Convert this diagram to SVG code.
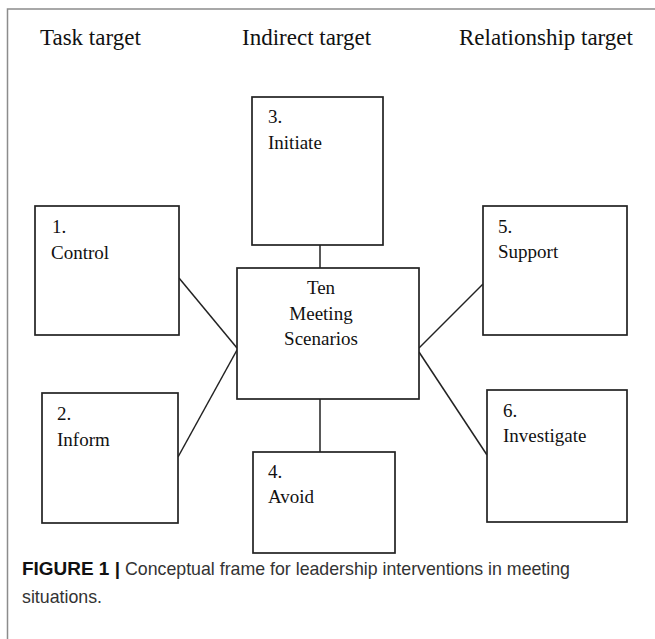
<svg xmlns="http://www.w3.org/2000/svg" width="655" height="639" viewBox="0 0 655 639">
  <style>
    .frame { fill: none; stroke: #8c8c8c; stroke-width: 1.5; }
    .box { fill: #ffffff; stroke: #222222; stroke-width: 1.7; }
    .link { fill: none; stroke: #222222; stroke-width: 1.5; }
    .head { font-family: "Liberation Serif", "Times New Roman", serif; font-size: 23px; fill: #111111; }
    .lbl { font-family: "Liberation Serif", "Times New Roman", serif; font-size: 19px; fill: #111111; }
    .ctr { text-anchor: middle; }
    .cap { font-family: "Liberation Sans", Arial, sans-serif; font-size: 19px; fill: #333333; }
    .capb { font-weight: bold; fill: #111111; }
  </style>

  <rect width="655" height="639" fill="#ffffff"/>
  <!-- panel frame: top and left rules only -->
  <path class="frame" d="M7.5,639 V9 H655"/>

  <!-- column headings -->
  <g id="headings">
    <text class="head" x="40" y="45">Task target</text>
    <text class="head" x="242" y="45">Indirect target</text>
    <text class="head" x="459" y="45">Relationship target</text>
  </g>

  <!-- connectors -->
  <g id="connectors">
    <line class="link" x1="320" y1="245" x2="320" y2="268"/>
    <line class="link" x1="320" y1="396" x2="320" y2="455"/>
    <line class="link" x1="179" y1="278" x2="237" y2="348"/>
    <line class="link" x1="237" y1="350" x2="178" y2="457"/>
    <line class="link" x1="419" y1="348" x2="483" y2="284"/>
    <line class="link" x1="419" y1="352" x2="487" y2="455"/>
  </g>

  <g id="node-center">
    <rect class="box" x="237" y="268" width="182" height="131"/>
    <text class="lbl ctr" x="321" y="294">Ten</text>
    <text class="lbl ctr" x="321" y="320">Meeting</text>
    <text class="lbl ctr" x="321" y="345">Scenarios</text>
  </g>

  <g id="node-control">
    <rect class="box" x="35" y="206" width="144" height="129"/>
    <text class="lbl" x="52" y="233">1.</text>
    <text class="lbl" x="51" y="259">Control</text>
  </g>

  <g id="node-inform">
    <rect class="box" x="42" y="393" width="136" height="130"/>
    <text class="lbl" x="57" y="420">2.</text>
    <text class="lbl" x="57" y="446">Inform</text>
  </g>

  <g id="node-initiate">
    <rect class="box" x="252" y="97" width="131" height="148"/>
    <text class="lbl" x="268" y="123">3.</text>
    <text class="lbl" x="268" y="149">Initiate</text>
  </g>

  <g id="node-avoid">
    <rect class="box" x="253" y="452" width="142" height="101"/>
    <text class="lbl" x="268" y="478">4.</text>
    <text class="lbl" x="268" y="503">Avoid</text>
  </g>

  <g id="node-support">
    <rect class="box" x="483" y="206" width="144" height="129"/>
    <text class="lbl" x="498" y="233">5.</text>
    <text class="lbl" x="498" y="258">Support</text>
  </g>

  <g id="node-investigate">
    <rect class="box" x="487" y="390" width="140" height="132"/>
    <text class="lbl" x="503" y="417">6.</text>
    <text class="lbl" x="503" y="442">Investigate</text>
  </g>

  <!-- caption -->
  <g id="caption">
    <text class="cap capb" x="22" y="575" textLength="98" lengthAdjust="spacingAndGlyphs">FIGURE 1 |</text>
    <text class="cap" x="125" y="575" textLength="445" lengthAdjust="spacingAndGlyphs">Conceptual frame for leadership interventions in meeting</text>
    <text class="cap" x="22" y="603" textLength="80" lengthAdjust="spacingAndGlyphs">situations.</text>
  </g>
</svg>
